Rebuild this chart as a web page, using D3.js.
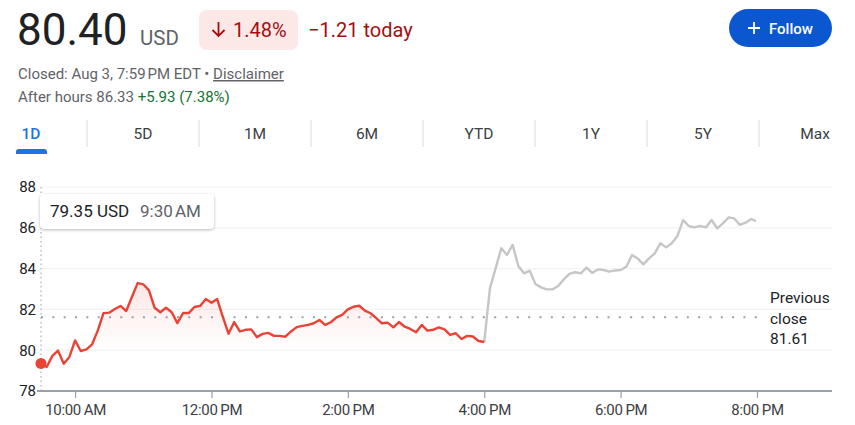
<!DOCTYPE html>
<html>
<head>
<meta charset="utf-8">
<script src="https://cdn.jsdelivr.net/npm/d3@7"></script>
<style>
  html, body { margin: 0; padding: 0; background: #fff; }
  svg { display: block; font-family: Roboto, "Noto Sans", Arial, sans-serif; }
</style>
</head>
<body>
<svg id="chart" width="855" height="425"></svg>
<script>
// ---------- data ----------
const currentPrice = "80.40";
const currency = "USD";
const changePct = "1.48%";
const changeAbs = "\u22121.21 today";
const closedText = "Closed: Aug 3, 7:59\u202FPM EDT \u2022 ";
const disclaimerText = "Disclaimer";
const afterHoursLabel = "After hours 86.33 ";
const afterHoursChange = "+5.93 (7.38%)";
const rangeTabs = ["1D", "5D", "1M", "6M", "YTD", "1Y", "5Y", "Max"];
const previousClose = 81.61;
const yTicks = [78, 80, 82, 84, 86, 88];
const xTickHours = [10, 12, 14, 16, 18, 20];
const tooltipPrice = "79.35 USD";
const tooltipTime = "9:30\u202FAM";

// regular session, 5-minute closes from 9:30 AM to 4:00 PM
const regularStart = [9, 30];
const stepMinutes = 5;
const regularPrices = [
  79.35, 79.18, 79.72, 79.98, 79.34, 79.67, 80.48, 79.96, 80.04, 80.29,
  80.97, 81.82, 81.84, 82.02, 82.17, 81.92, 82.61, 83.29, 83.23, 82.93,
  82.08, 81.86, 82.08, 81.86, 81.33, 81.82, 81.82, 82.12, 82.17, 82.51,
  82.33, 82.51, 81.63, 80.81, 81.38, 80.92, 81.00, 81.02, 80.64, 80.80,
  80.85, 80.70, 80.70, 80.66, 80.92, 81.13, 81.19, 81.24, 81.32, 81.48,
  81.24, 81.37, 81.61, 81.73, 82.00, 82.13, 82.18, 81.94, 81.81, 81.57,
  81.32, 81.35, 81.12, 81.38, 81.15, 81.04, 80.88, 81.24, 80.96, 81.00,
  81.12, 81.02, 80.75, 80.83, 80.55, 80.70, 80.67, 80.45, 80.40
];
// after hours, 5-minute closes from 4:05 PM, last print at 7:59 PM
const afterHoursStart = [16, 5];
const afterHoursLastTime = [19, 59];
const afterHoursPrices = [
  83.03, 84.01, 85.00, 84.67, 85.16, 84.13, 83.77, 83.90, 83.25, 83.08,
  82.98, 82.98, 83.15, 83.47, 83.74, 83.82, 83.77, 84.05, 83.79, 83.96,
  83.93, 83.85, 83.91, 83.93, 84.09, 84.67, 84.50, 84.21, 84.50, 84.75,
  85.24, 85.04, 85.24, 85.60, 86.38, 86.09, 86.02, 86.09, 86.02, 86.38,
  85.97, 86.22, 86.51, 86.46, 86.14, 86.25, 86.43, 86.33
];

// ---------- helpers ----------
const day = (h, m) => new Date(2023, 7, 3, h, m);
const regular = regularPrices.map((p, i) => ({ t: new Date(day(...regularStart).getTime() + i * stepMinutes * 60000), v: p }));
const after = [regular[regular.length - 1]].concat(afterHoursPrices.map((p, i) => ({
  t: i === afterHoursPrices.length - 1 ? day(...afterHoursLastTime)
                                       : new Date(day(...afterHoursStart).getTime() + i * stepMinutes * 60000),
  v: p
})));

const svg = d3.select("#chart");
const font = 'Roboto, "Noto Sans", Arial, sans-serif';

// ---------- header ----------
svg.append("text").attr("x", 17).attr("y", 45).attr("font-size", 44).attr("fill", "#202124").text(currentPrice);
svg.append("text").attr("x", 140).attr("y", 45).attr("font-size", 20.5).attr("fill", "#5f6368").text(currency);

svg.append("rect").attr("x", 199).attr("y", 10).attr("width", 99).attr("height", 40).attr("rx", 8).attr("fill", "#fce8e6");
svg.append("path").attr("d", "M218.5,22 V36 M212.5,30 L218.5,36 L224.5,30")
  .attr("fill", "none").attr("stroke", "#a50e0e").attr("stroke-width", 1.8);
svg.append("text").attr("x", 233).attr("y", 37).attr("font-size", 20).attr("fill", "#a50e0e").text(changePct);
svg.append("text").attr("x", 308).attr("y", 37).attr("font-size", 20).attr("fill", "#a50e0e").text(changeAbs);

const closed = svg.append("text").attr("x", 18).attr("y", 79).attr("font-size", 15).attr("fill", "#5f6368");
closed.append("tspan").text(closedText);
closed.append("tspan").attr("text-decoration", "underline").text(disclaimerText);
const ah = svg.append("text").attr("x", 18).attr("y", 102).attr("font-size", 15).attr("fill", "#5f6368");
ah.append("tspan").text(afterHoursLabel);
ah.append("tspan").attr("fill", "#137333").text(afterHoursChange);

// follow button
svg.append("rect").attr("x", 729).attr("y", 9).attr("width", 103).attr("height", 38).attr("rx", 19).attr("fill", "#0b57d0");
svg.append("path").attr("d", "M748,28 H760 M754,22 V34").attr("stroke", "#fff").attr("stroke-width", 1.8);
svg.append("text").attr("x", 769).attr("y", 34).attr("font-size", 15).attr("font-weight", 500).attr("fill", "#fff").text("Follow");

// ---------- range tabs ----------
const tabX = d3.scalePoint().domain(rangeTabs).range([31, 815]);
rangeTabs.forEach((t, i) => {
  svg.append("text").attr("x", tabX(t)).attr("y", 139).attr("text-anchor", "middle")
    .attr("font-size", 15.5).attr("font-weight", i === 0 ? 500 : 400)
    .attr("fill", i === 0 ? "#1a73e8" : "#3c4043").text(t);
  if (i > 0) {
    const sx = (tabX(rangeTabs[i - 1]) + tabX(t)) / 2;
    svg.append("line").attr("x1", sx).attr("x2", sx).attr("y1", 120).attr("y2", 147)
      .attr("stroke", "#dadce0").attr("stroke-width", 1);
  }
});
svg.append("path").attr("d", "M16,154 V152 Q16,149 19,149 H44 Q47,149 47,152 V154 Z").attr("fill", "#1a73e8");

// ---------- chart ----------
const x = d3.scaleTime().domain([day(9, 30), day(20, 0)]).range([41, 757]);
const y = d3.scaleLinear().domain([78, 88]).range([391, 187]);
const plotRight = 832;

const defs = svg.append("defs");
const grad = defs.append("linearGradient").attr("id", "fillGrad").attr("gradientUnits", "userSpaceOnUse")
  .attr("x1", 0).attr("x2", 0).attr("y1", y(83.4)).attr("y2", y(80));
grad.append("stop").attr("offset", 0).attr("stop-color", "#ea4335").attr("stop-opacity", 0.13);
grad.append("stop").attr("offset", 1).attr("stop-color", "#ea4335").attr("stop-opacity", 0);
const sh = defs.append("filter").attr("id", "shadow").attr("x", "-10%").attr("y", "-30%").attr("width", "120%").attr("height", "170%");
sh.append("feDropShadow").attr("dx", 0).attr("dy", 1).attr("stdDeviation", 1.4).attr("flood-color", "#000").attr("flood-opacity", 0.28);

// gridlines
svg.append("g").selectAll("line").data(yTicks.filter(v => v !== 78)).join("line")
  .attr("x1", 41).attr("x2", plotRight).attr("y1", d => y(d)).attr("y2", d => y(d))
  .attr("stroke", "#f1f3f4").attr("stroke-width", 1.2);

// y labels
const yAxis = svg.append("g").attr("transform", "translate(36,0)")
  .call(d3.axisLeft(y).tickValues(yTicks).tickSize(0).tickPadding(0).tickFormat(d3.format("d")));
yAxis.select(".domain").remove();
yAxis.selectAll("text").attr("font-family", font).attr("font-size", 15).attr("fill", "#202124");

// area + lines
const area = d3.area().x(d => x(d.t)).y0(y(78)).y1(d => y(d.v));
svg.append("path").datum(regular).attr("d", area).attr("fill", "url(#fillGrad)");

// previous close dotted line
svg.append("line").attr("x1", 41).attr("x2", 762).attr("y1", y(previousClose)).attr("y2", y(previousClose))
  .attr("stroke", "#9aa0a6").attr("stroke-width", 2).attr("stroke-dasharray", "2,9.33");

// vertical hover line
svg.append("line").attr("x1", x(day(9, 30))).attr("x2", x(day(9, 30))).attr("y1", y(88)).attr("y2", y(78))
  .attr("stroke", "#9aa0a6").attr("stroke-width", 1).attr("stroke-dasharray", "1.5,3");

const line = d3.line().x(d => x(d.t)).y(d => y(d.v));
svg.append("path").datum(after).attr("d", line).attr("fill", "none")
  .attr("stroke", "#c6c6c6").attr("stroke-width", 2.4).attr("stroke-linejoin", "round");
svg.append("path").datum(regular).attr("d", line).attr("fill", "none")
  .attr("stroke", "#ea4335").attr("stroke-width", 2.4).attr("stroke-linejoin", "round");

svg.append("circle").attr("cx", x(regular[0].t)).attr("cy", y(regular[0].v)).attr("r", 5.5).attr("fill", "#ea4335");

// x axis
const xAxis = svg.append("g").attr("transform", `translate(0,${y(78)})`)
  .call(d3.axisBottom(x).tickValues(xTickHours.map(h => day(h, 0))).tickSize(7).tickPadding(6)
    .tickFormat(d3.timeFormat("%-I:%M\u2009%p")));
xAxis.select(".domain").remove();
xAxis.selectAll(".tick line").attr("stroke", "#9aa0a6").attr("stroke-width", 1.2);
xAxis.selectAll("text").attr("font-family", font).attr("font-size", 15).attr("fill", "#3c4043").attr("letter-spacing", -0.3);
svg.append("line").attr("x1", 37).attr("x2", plotRight).attr("y1", y(78)).attr("y2", y(78))
  .attr("stroke", "#9aa0a6").attr("stroke-width", 2);

// previous close label
["Previous", "close", String(previousClose)].forEach((t, i) => {
  svg.append("text").attr("x", 770).attr("y", 303 + i * 20.7).attr("font-size", 15.5).attr("fill", "#202124").text(t);
});

// tooltip
svg.append("rect").attr("x", 40).attr("y", 194).attr("width", 174).attr("height", 35).attr("rx", 4)
  .attr("fill", "#fff").attr("filter", "url(#shadow)");
svg.append("text").attr("x", 50).attr("y", 217).attr("font-size", 17).attr("fill", "#202124").text(tooltipPrice);
svg.append("text").attr("x", 140).attr("y", 217).attr("font-size", 17).attr("fill", "#5f6368").text(tooltipTime);
</script>
</body>
</html>
